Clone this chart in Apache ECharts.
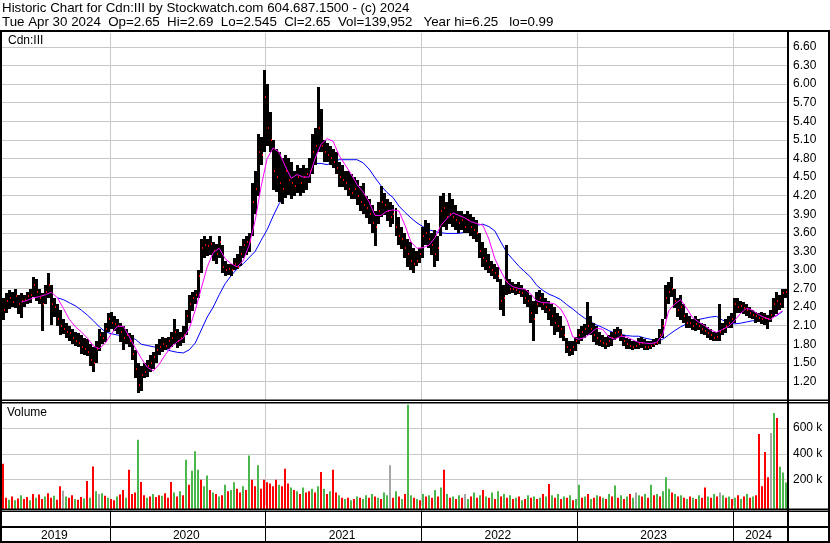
<!DOCTYPE html>
<html><head><meta charset="utf-8">
<script src="https://cdn.jsdelivr.net/npm/echarts@6/dist/echarts.min.js"></script>
<style>html,body{margin:0;padding:0;background:#fff}#c{width:830px;height:543px}</style>
</head><body><div id="c"></div>
<script>
// ---- data (weekly bars, week ending Friday) ----
const firstWeekEnd = '2019-05-03';
const weekCount = 262;
const high = [
2.55,2.62,2.68,2.65,2.70,2.60,2.62,2.60,2.65,2.70,
2.88,2.85,2.70,2.62,2.75,2.95,2.75,2.55,2.45,2.35,
2.20,2.15,2.10,2.05,2.00,1.98,1.95,1.90,1.88,1.80,
1.75,1.85,2.05,2.00,2.15,2.30,2.32,2.25,2.20,2.15,
2.10,2.05,1.98,1.95,1.70,1.50,1.45,1.50,1.55,1.62,
1.68,1.80,1.88,1.92,1.90,1.92,2.00,2.20,2.05,2.00,
2.10,2.35,2.60,2.65,2.68,3.00,3.50,3.55,3.50,3.55,
3.45,3.42,3.55,3.40,3.15,3.10,3.10,3.20,3.25,3.38,
3.50,3.55,3.60,4.40,4.60,5.20,5.15,6.23,6.00,5.55,
5.10,4.95,4.90,4.80,4.85,4.80,4.75,4.60,4.70,4.65,
4.70,4.65,4.80,5.20,5.30,5.95,5.60,5.10,5.05,5.00,
4.95,4.90,4.75,4.70,4.60,4.60,4.55,4.50,4.45,4.35,
4.40,4.20,4.15,4.05,3.95,4.10,4.35,4.25,4.15,4.10,
4.05,4.00,3.85,3.70,3.60,3.50,3.45,3.35,3.30,3.35,
3.70,3.80,3.75,3.60,3.65,3.55,4.20,4.25,4.10,4.25,
4.15,4.05,3.95,3.95,3.90,3.95,3.90,3.85,3.80,3.60,
3.45,3.35,3.25,3.15,3.10,3.05,2.85,2.75,3.40,2.85,
2.80,2.78,2.80,2.75,2.70,2.68,2.60,2.50,2.65,2.68,
2.62,2.55,2.50,2.45,2.40,2.30,2.25,2.10,1.90,1.85,
1.85,1.92,2.05,2.10,2.12,2.48,2.25,2.15,2.10,2.00,
1.95,1.92,1.95,2.00,2.05,2.08,2.05,1.95,1.90,1.88,
1.85,1.85,1.90,1.92,1.88,1.85,1.85,1.88,1.90,2.05,
2.20,2.75,2.80,2.88,2.70,2.55,2.60,2.45,2.30,2.25,
2.20,2.25,2.20,2.15,2.12,2.08,2.05,2.00,2.00,2.45,
2.15,2.20,2.25,2.30,2.55,2.55,2.50,2.48,2.45,2.40,
2.35,2.32,2.30,2.32,2.30,2.28,2.35,2.55,2.65,2.60,
2.70,2.69];
const low = [
2.20,2.30,2.38,2.40,2.40,2.30,2.22,2.40,2.45,2.48,
2.55,2.50,2.45,2.00,2.45,2.55,2.10,2.25,2.10,1.95,
1.95,1.90,1.85,1.80,1.78,1.75,1.65,1.62,1.60,1.45,
1.35,1.50,1.70,1.80,1.85,2.00,2.05,2.00,1.95,1.85,
1.72,1.80,1.75,1.55,1.25,1.02,1.05,1.25,1.28,1.35,
1.40,1.50,1.62,1.68,1.70,1.72,1.75,1.80,1.75,1.78,
1.82,1.95,2.15,2.35,2.45,2.55,2.95,3.20,3.22,3.25,
3.15,3.10,3.20,2.95,2.90,2.92,2.90,3.00,3.00,3.05,
3.20,3.25,3.30,3.55,3.90,4.20,4.70,4.90,5.00,4.90,
4.30,4.25,4.10,4.05,4.15,4.20,4.15,4.20,4.25,4.20,
4.25,4.30,4.40,4.55,4.70,4.90,4.90,4.75,4.75,4.70,
4.65,4.55,4.35,4.35,4.30,4.20,4.15,4.15,4.05,3.95,
3.90,3.85,3.75,3.60,3.38,3.75,3.85,3.90,3.80,3.70,
3.75,3.55,3.40,3.35,3.20,3.05,3.00,2.95,3.05,3.10,
3.20,3.40,3.35,3.25,3.05,3.15,3.55,3.70,3.65,3.75,
3.70,3.65,3.60,3.65,3.60,3.60,3.55,3.50,3.45,3.20,
3.05,3.00,2.95,2.90,2.85,2.80,2.35,2.25,2.60,2.60,
2.62,2.60,2.60,2.55,2.45,2.40,2.15,1.85,2.30,2.40,
2.35,2.30,2.20,2.10,1.95,2.00,1.90,1.85,1.65,1.60,
1.62,1.70,1.80,1.85,1.90,1.95,1.95,1.85,1.80,1.78,
1.75,1.72,1.75,1.78,1.88,1.90,1.85,1.78,1.72,1.72,
1.70,1.72,1.72,1.75,1.70,1.70,1.72,1.75,1.78,1.80,
1.90,2.20,2.45,2.55,2.40,2.25,2.20,2.15,2.05,2.05,
2.02,2.00,2.02,1.98,1.95,1.90,1.88,1.85,1.85,1.85,
1.95,1.98,2.05,2.05,2.15,2.30,2.30,2.28,2.25,2.22,
2.20,2.15,2.15,2.12,2.10,2.05,2.15,2.25,2.30,2.35,
2.40,2.55];
const close = [
2.35,2.50,2.55,2.48,2.58,2.45,2.50,2.52,2.58,2.60,
2.75,2.65,2.55,2.45,2.65,2.75,2.45,2.40,2.20,2.10,
2.05,2.00,1.98,1.90,1.85,1.82,1.75,1.72,1.68,1.55,
1.50,1.72,1.95,1.90,2.05,2.20,2.15,2.12,2.10,2.00,
1.90,1.95,1.85,1.65,1.40,1.15,1.30,1.35,1.45,1.50,
1.60,1.70,1.75,1.80,1.78,1.85,1.90,2.00,1.85,1.90,
1.95,2.25,2.45,2.55,2.60,2.90,3.35,3.40,3.38,3.42,
3.30,3.25,3.45,3.05,3.00,3.02,3.00,3.10,3.05,3.25,
3.40,3.45,3.45,4.10,4.30,4.90,4.85,5.80,5.30,5.10,
4.60,4.50,4.40,4.30,4.60,4.45,4.40,4.35,4.50,4.40,
4.50,4.55,4.60,4.90,5.00,5.30,5.00,4.90,4.85,4.80,
4.75,4.65,4.50,4.45,4.40,4.30,4.25,4.30,4.20,4.10,
4.05,4.00,3.90,3.75,3.70,3.95,4.10,4.05,3.95,3.85,
3.90,3.70,3.55,3.50,3.35,3.25,3.15,3.10,3.15,3.25,
3.55,3.60,3.50,3.40,3.25,3.35,3.95,4.00,3.85,3.90,
3.85,3.80,3.75,3.80,3.70,3.80,3.70,3.65,3.60,3.30,
3.20,3.15,3.05,3.00,2.95,2.90,2.50,2.55,2.80,2.70,
2.70,2.68,2.65,2.62,2.55,2.50,2.30,2.20,2.45,2.55,
2.45,2.40,2.35,2.25,2.15,2.10,2.05,1.95,1.75,1.70,
1.75,1.85,1.95,2.00,2.05,2.10,2.05,1.95,1.90,1.85,
1.82,1.80,1.85,1.90,1.98,2.00,1.95,1.85,1.80,1.78,
1.75,1.78,1.80,1.82,1.76,1.75,1.78,1.80,1.82,1.95,
2.10,2.55,2.65,2.70,2.50,2.35,2.40,2.25,2.15,2.15,
2.10,2.12,2.10,2.05,2.02,1.98,1.95,1.90,1.92,2.00,
2.05,2.10,2.15,2.20,2.45,2.40,2.42,2.38,2.35,2.30,
2.28,2.25,2.22,2.20,2.22,2.20,2.28,2.45,2.50,2.45,
2.62,2.65];
// moving averages read every second week
const maFastStartWeek = 6;
const maFast = [
2.48,2.51,2.55,2.57,2.60,2.64,2.55,2.38,2.20,2.08,
2.00,1.90,1.77,1.73,1.82,1.97,2.09,2.09,1.92,1.74,
1.57,1.43,1.37,1.48,1.63,1.76,1.84,1.90,2.05,2.35,
2.70,3.05,3.28,3.35,3.18,3.10,3.05,3.15,3.40,3.80,
4.35,4.80,4.97,4.90,4.68,4.48,4.54,4.50,4.50,4.80,
5.03,5.12,5.08,4.85,4.70,4.55,4.38,4.26,4.10,3.88,
3.88,3.95,3.97,3.95,3.72,3.45,3.35,3.36,3.40,3.52,
3.72,3.83,3.92,3.88,3.84,3.78,3.75,3.72,3.50,3.18,
2.98,2.80,2.73,2.70,2.69,2.61,2.50,2.47,2.47,2.45,
2.37,2.20,1.92,1.88,1.91,1.98,2.06,2.04,1.92,1.88,
1.93,1.92,1.87,1.83,1.82,1.81,1.83,1.95,2.34,2.45,
2.52,2.38,2.23,2.16,2.10,2.03,1.99,2.04,2.09,2.18,
2.30,2.38,2.35,2.28,2.23,2.20,2.27,2.34];
const maSlowStartWeek = 18;
const maSlow = [
2.55,2.52,2.47,2.42,2.35,2.27,2.18,2.08,2.00,1.97,
1.95,1.93,1.92,1.88,1.80,1.78,1.76,1.74,1.72,1.69,
1.67,1.66,1.71,1.82,2.03,2.24,2.40,2.60,2.78,2.91,
3.02,3.10,3.20,3.30,3.48,3.65,3.87,4.07,4.21,4.38,
4.50,4.58,4.65,4.72,4.72,4.70,4.74,4.78,4.78,4.78,
4.78,4.73,4.63,4.49,4.36,4.25,4.17,4.03,3.93,3.84,
3.76,3.70,3.65,3.62,3.60,3.59,3.59,3.59,3.61,3.63,
3.72,3.74,3.70,3.63,3.45,3.28,3.17,3.06,2.97,2.88,
2.75,2.67,2.61,2.57,2.52,2.44,2.37,2.29,2.22,2.16,
2.11,2.07,2.02,1.98,1.96,1.94,1.93,1.93,1.90,1.88,
1.85,1.88,1.95,2.02,2.08,2.13,2.17,2.20,2.22,2.24,
2.25,2.19,2.14,2.13,2.14,2.16,2.18,2.19,2.21,2.23,
2.26,2.33];
// volume, thousands (largest day in each week) and its colour: r=down g=up n=unchanged
const volK = [
324,60,45,70,40,55,80,50,65,40,
90,60,85,50,70,95,60,75,45,150,
115,70,60,80,50,45,65,55,190,60,
303,110,90,95,75,60,50,40,70,85,
120,60,277,90,100,510,182,80,60,70,
90,65,80,75,95,60,182,100,70,110,
80,355,160,270,420,277,200,150,233,120,
100,90,70,80,160,110,120,180,130,100,
150,120,388,200,150,311,130,200,180,170,
150,200,160,150,285,170,140,120,110,90,
140,100,110,130,100,150,260,130,90,110,
277,100,80,60,50,60,40,50,70,60,
50,80,60,90,70,60,50,100,80,311,
60,110,70,50,90,781,80,60,50,40,
90,70,80,60,120,70,140,277,90,60,
70,50,80,60,90,50,70,100,60,80,
120,70,60,100,50,110,70,90,60,80,
50,60,70,40,50,80,60,70,50,60,
90,70,167,80,60,90,50,70,60,80,
40,50,160,60,70,90,50,60,80,70,
60,50,90,70,155,60,80,50,70,90,
60,100,80,70,90,60,160,80,90,70,
110,218,130,100,90,70,80,60,50,70,
60,50,80,60,140,70,60,90,70,100,
80,60,70,50,60,80,50,70,90,60,
70,80,554,150,414,218,562,717,678,300,
255,178];
const volSide = [
'rrgrgrgrrg','rgrrgrrgrr','ngrrgrrgrg','rgngrgrrgr','rgrrrgrrgr',
'grrgrrrgrg','rgrgggrggr','grgrgrggrr','grgrrgrrrr','rrgrrrgrgr',
'grrgrgrgrg','rrgrgrgrgr','ggrgrgrggn','rgrgrggrgr','grgrgrgrgr',
'grgrngrgrg','rgrgrgrgrg','rgrgrgrgrg','rgrgrgrgrg','rggrgrgrgr',
'grgrgrgrgr','gngrgrgrgr','gggrgrgrgr','grgrrgrgrn','grgrgrgrgr',
'grrrrrngrg','gg'].join('').split('');
const priceTickMin = 0.9, priceTickStep = 0.3;
const volTickStep = 200000;

// ---- derived categories ----
const DAY = 86400000;
const t0 = Date.parse(firstWeekEnd + 'T00:00:00Z');
const weeks = [], weekYear = [];
for (let i = 0; i < weekCount; i++) {
  const d = new Date(t0 + i * 7 * DAY);
  weeks.push(d.toISOString().slice(0, 10));
  weekYear.push(new Date(t0 + i * 7 * DAY - 4 * DAY).getUTCFullYear());
}
const yearStart = new Set(), yearMid = new Set();
{
  let s = 0;
  for (let i = 1; i <= weekCount; i++) {
    if (i === weekCount || weekYear[i] !== weekYear[i - 1]) {
      if (s > 0) yearStart.add(s);
      yearMid.add(Math.floor((s + i - 1) / 2));
      s = i;
    }
  }
}
function sparse(start, arr) {
  const out = new Array(weekCount).fill(null);
  arr.forEach((v, k) => { const idx = start + 2 * k; if (idx < weekCount) out[idx] = v; });
  return out;
}
const volColors = { r: '#ff0000', g: '#4cb74c', n: '#a6a6a6' };

const FONT = 'Liberation Sans, Arial, sans-serif';
const chart = echarts.init(document.getElementById('c'), null, { renderer: 'canvas' });
const splitFn = (i) => yearStart.has(i);
const xBase = (gi, color, showSplit) => ({
  type: 'category', gridIndex: gi, data: weeks, boundaryGap: true,
  axisLine: { show: false }, axisTick: { show: false }, axisLabel: { show: false },
  splitLine: { show: showSplit, interval: splitFn, lineStyle: { color: color, width: 1 } }
});
const x4 = xBase(4, '#000', true);
x4.position = 'top';
x4.axisLabel = {
  show: true, inside: true, margin: 3, interval: (i) => yearMid.has(i),
  formatter: (v, i) => String(weekYear[i]), fontSize: 12, fontFamily: FONT, color: '#000'
};
const ohlcData = high.map((h, i) => [i, h, low[i], close[i]]);
const VOL_MIN = -27100, VOL_MAX = 794000;

chart.setOption({
  animation: false,
  backgroundColor: '#fff',
  title: [
    { text: 'Historic Chart for Cdn:III by Stockwatch.com 604.687.1500 - (c) 2024', left: 2, top: 2, padding: 0,
      textStyle: { fontSize: 13.33, fontWeight: 'normal', fontFamily: FONT, color: '#000' } },
    { text: 'Tue Apr 30 2024  Op=2.65  Hi=2.69  Lo=2.545  Cl=2.65  Vol=139,952   Year hi=6.25   lo=0.99', left: 2, top: 16, padding: 0,
      textStyle: { fontSize: 13.33, fontWeight: 'normal', fontFamily: FONT, color: '#000' } },
    { text: 'Cdn:III', left: 8, top: 35, padding: 0,
      textStyle: { fontSize: 12, fontWeight: 'normal', fontFamily: FONT, color: '#000' } },
    { text: 'Volume', left: 7, top: 407, padding: 0,
      textStyle: { fontSize: 12, fontWeight: 'normal', fontFamily: FONT, color: '#000' } }
  ],
  grid: [
    { left: 2, top: 33, width: 785, height: 367 },
    { left: 2, top: 403, width: 785, height: 102.5 },
    { left: 2, top: 403, width: 785, height: 106 },
    { left: 2, top: 510.5, width: 785, height: 16 },
    { left: 2, top: 527, width: 785, height: 14.5 }
  ],
  xAxis: [xBase(0, '#c8c8c8', true), xBase(1, '#c8c8c8', true), xBase(2, '#c8c8c8', false), xBase(3, '#000', true), x4],
  yAxis: [
    { type: 'value', gridIndex: 0, position: 'right', min: priceTickMin, max: 6.826, interval: priceTickStep,
      axisLine: { show: false }, axisTick: { show: false },
      axisLabel: { margin: 6, showMinLabel: false, showMaxLabel: false, formatter: (v) => v.toFixed(2),
        fontSize: 12, fontFamily: FONT, color: '#000' },
      splitLine: { show: true, showMinLine: false, showMaxLine: false, lineStyle: { color: '#c8c8c8' } } },
    { type: 'value', gridIndex: 1, position: 'right', min: 0, max: VOL_MAX, interval: volTickStep,
      axisLine: { show: false }, axisTick: { show: false },
      axisLabel: { margin: 6, showMinLabel: false, showMaxLabel: false, formatter: (v) => (v / 1000) + ' k',
        fontSize: 12, fontFamily: FONT, color: '#000' },
      splitLine: { show: true, showMinLine: false, showMaxLine: false, lineStyle: { color: '#c8c8c8' } } },
    { type: 'value', gridIndex: 2, min: VOL_MIN, max: VOL_MAX, show: false },
    { type: 'value', gridIndex: 3, show: false },
    { type: 'value', gridIndex: 4, show: false }
  ],
  series: [
    { type: 'line', xAxisIndex: 0, yAxisIndex: 0, data: sparse(maSlowStartWeek, maSlow), connectNulls: true,
      showSymbol: false, symbol: 'none', lineStyle: { color: '#0000ff', width: 1 }, z: 3 },
    { type: 'custom', xAxisIndex: 0, yAxisIndex: 0, z: 4, data: ohlcData,
      encode: { x: 0, y: [1, 2] },
      renderItem: function (params, api) {
        const i = api.value(0);
        const h = api.coord([i, api.value(1)]);
        const l = api.coord([i, api.value(2)]);
        const bw = api.size([1, 0])[0];
        const x0 = Math.round(h[0] - bw / 2), x1 = Math.round(h[0] + bw / 2);
        return { type: 'rect', shape: { x: x0, y: Math.round(h[1]), width: x1 - x0, height: Math.max(1, Math.round(l[1] - h[1])) }, style: { fill: '#000' } };
      } },
    // close ticks on top of the bars
    { type: 'custom', xAxisIndex: 0, yAxisIndex: 0, z: 5, data: ohlcData,
      encode: { x: 0, y: 3 },
      renderItem: function (params, api) {
        const c = api.coord([api.value(0), api.value(3)]);
        const bw = api.size([1, 0])[0];
        const x1 = Math.round(c[0] + bw / 2);
        return { type: 'rect', shape: { x: x1 - 1, y: Math.round(c[1]) - 1, width: 1, height: 2 }, style: { fill: '#ff0000' } };
      } },
    { type: 'line', xAxisIndex: 0, yAxisIndex: 0, data: sparse(maFastStartWeek, maFast), connectNulls: true,
      showSymbol: false, symbol: 'none', lineStyle: { color: '#ff00ff', width: 1 }, z: 6 },
    { type: 'custom', xAxisIndex: 2, yAxisIndex: 2, z: 4,
      data: volK.map((v, i) => [i, v * 1000]),
      encode: { x: 0, y: 1 },
      renderItem: function (params, api) {
        const i = api.value(0);
        const top = api.coord([i, api.value(1)]);
        const base = api.coord([i, VOL_MIN]);
        const x = Math.round(top[0]);
        return { type: 'rect', shape: { x: x - 1, y: top[1], width: 2, height: base[1] - top[1] },
          style: { fill: volColors[volSide[i]] } };
      } }
  ],
  graphic: [
    { type: 'rect', z: 100, shape: { x: 0, y: 30, width: 830, height: 2 }, style: { fill: '#000' } },
    { type: 'rect', z: 100, shape: { x: 0, y: 30, width: 2, height: 513 }, style: { fill: '#000' } },
    { type: 'rect', z: 100, shape: { x: 787, y: 30, width: 2, height: 512 }, style: { fill: '#000' } },
    { type: 'rect', z: 100, shape: { x: 828, y: 30, width: 2, height: 513 }, style: { fill: '#000' } },
    { type: 'rect', z: 100, shape: { x: 0, y: 399.5, width: 830, height: 1.5 }, style: { fill: '#000' } },
    { type: 'rect', z: 100, shape: { x: 0, y: 402, width: 830, height: 1.5 }, style: { fill: '#000' } },
    { type: 'rect', z: 100, shape: { x: 0, y: 508.5, width: 830, height: 1.5 }, style: { fill: '#000' } },
    { type: 'rect', z: 100, shape: { x: 0, y: 510.5, width: 830, height: 1.5 }, style: { fill: '#000' } },
    { type: 'rect', z: 100, shape: { x: 0, y: 526, width: 830, height: 2 }, style: { fill: '#000' } },
    { type: 'rect', z: 100, shape: { x: 0, y: 541, width: 830, height: 2 }, style: { fill: '#000' } }
  ]
});
</script></body></html>
